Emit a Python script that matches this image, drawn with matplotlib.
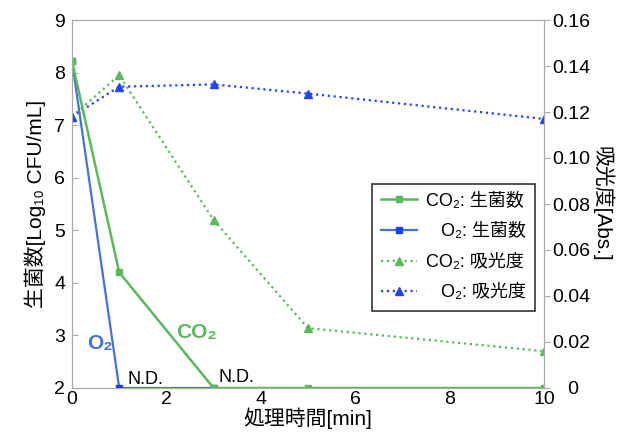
import matplotlib
matplotlib.use("Agg")
import matplotlib.pyplot as plt

plt.rcParams['font.family'] = ['Liberation Sans', 'Noto Sans CJK JP', 'DejaVu Sans']

# time [min]
time = [0, 1, 3, 5, 10]

# viable count [log10 CFU/mL]
co2_count = [8.22, 4.2, 2.0, 2.0, 2.0]
o2_time = [0, 1, 3]
o2_count = [8.22, 2.0, 2.0]

# absorbance [Abs.]
co2_abs = [0.118, 0.136, 0.073, 0.026, 0.016]
o2_abs = [0.118, 0.131, 0.132, 0.128, 0.117]

abs_ticks = [0, 0.02, 0.04, 0.06, 0.08, 0.10, 0.12, 0.14, 0.16]
abs_labels = ['   0', '0.02', '0.04', '0.06', '0.08', '0.10', '0.12', '0.14', '0.16']

green = '#5cb85c'
blue_line = '#4472dd'
blue_dot = '#2244ff'
gray = '#aaaaaa'

fig = plt.figure(figsize=(6.31, 4.37), dpi=100)
ax = fig.add_axes([72/631, 49/437, 472/631, 368/437])
ax2 = ax.twinx()

l2, = ax.plot(o2_time, o2_count, '-', color=blue_line, lw=1.6,
              marker='s', ms=5, mfc='#1a3cff', mec='#1a3cff', label='   O₂: 生菌数')
l1, = ax.plot(time, co2_count, '-', color=green, lw=1.8,
              marker='s', ms=5, label='CO₂: 生菌数')
l3, = ax2.plot(time, co2_abs, ':', color=green, lw=1.6,
               marker='^', ms=6, label='CO₂: 吸光度')
l4, = ax2.plot(time, o2_abs, ':', color=blue_dot, lw=1.6,
               marker='^', ms=6, label='   O₂: 吸光度')

ax.set_xlim(0, 10)
ax.set_ylim(2, 9)
ax2.set_ylim(0, 0.16)
ax.set_xticks([0, 2, 4, 6, 8, 10])
ax.set_yticks(range(2, 10))
ax2.set_yticks(abs_ticks)
ax2.set_yticklabels(abs_labels)

for a in (ax, ax2):
    for s in a.spines.values():
        s.set_color(gray)
ax.tick_params(axis='x', length=0, labelsize=14, pad=2)
ax.tick_params(axis='y', direction='in', length=4, color=gray, labelsize=14, pad=5)
ax2.tick_params(axis='y', direction='out', length=4, color=gray, labelsize=14, pad=2)

ax.set_xlabel('処理時間[min]', fontsize=15, labelpad=0)
ax.set_ylabel('生菌数[Log₁₀ CFU/mL]', fontsize=15, labelpad=6)
ax2.set_ylabel('吸光度[Abs.]', fontsize=15, rotation=270, labelpad=16)

ax.text(0.32, 2.75, 'O₂', color=blue_line, fontsize=15, fontweight='bold')
ax.text(2.2, 2.95, 'CO₂', color=green, fontsize=15, fontweight='bold')
ax.text(1.17, 2.07, 'N.D.', fontsize=13)
ax.text(3.1, 2.12, 'N.D.', fontsize=13)

ax2.set_zorder(1)
ax.set_zorder(2)
ax.patch.set_visible(False)

leg = ax.legend(handles=[l1, l2, l3, l4], loc='upper right',
                bbox_to_anchor=(0.981, 0.555), fontsize=13, frameon=True,
                fancybox=False, edgecolor='black', handlelength=2.0,
                borderpad=0.5, labelspacing=0.75, handletextpad=0.5,
                borderaxespad=0)
leg.get_frame().set_linewidth(1.2)

fig.savefig('out.png', dpi=100)
